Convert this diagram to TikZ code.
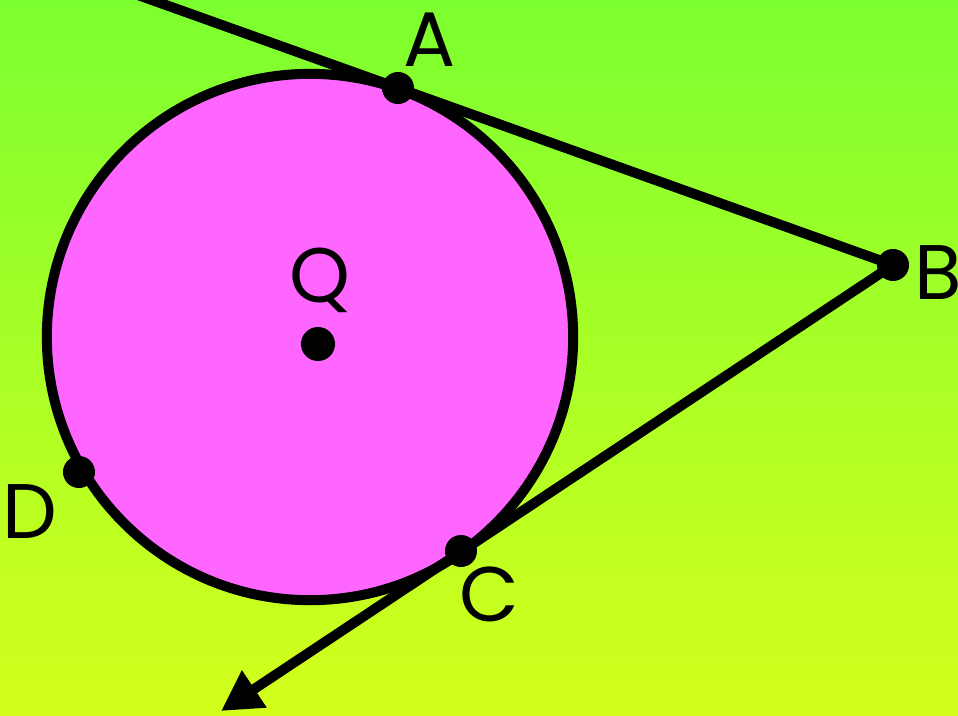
\documentclass[tikz,border=0pt]{standalone}
\usepackage{fontspec}
\setmainfont{Poppins}
\usetikzlibrary{arrows.meta,calc}
\definecolor{topg}{HTML}{7CFF30}
\definecolor{botg}{HTML}{D4FF1C}
\definecolor{magf}{HTML}{FF66FF}
\tikzset{
  pt/.style={circle,fill=black,inner sep=0pt,minimum size=0.32cm},
  lbl/.style={font=\fontsize{22}{24}\selectfont},
  thick line/.style={line width=0.1cm,black}
}
\begin{document}
\begin{tikzpicture}[x=0.01cm,y=-0.01cm]
\shade[top color=topg,bottom color=botg] (0,0) rectangle (958,715);
\useasboundingbox (0,0) rectangle (958,715);
\begin{scope}
\clip (0,0) rectangle (958,715);
\draw[thick line,fill=magf] (310,337) circle[radius=2.63cm];
\coordinate (cA) at (398,88);
\coordinate (cB) at (893,265);
\coordinate (cS) at ($(cA)!-0.56!(cB)$);
\coordinate (cT) at (221,711);
\draw[thick line] (cS) -- (cB);
\draw[thick line,-{Triangle[length=0.4cm,width=0.42cm]}] (cB) -- (cT);
\node[pt] (A) at (cA) {};
\node[pt] (B) at (cB) {};
\node[pt] (C) at (461,551) {};
\node[pt] (D) at (79,472) {};
\node[pt,minimum size=0.34cm] (Q) at (318,344) {};
\node[lbl] (la) at (430,40) {A};
\node[lbl] (lb) at (938,273) {B};
\node[lbl] (lq) at (320,280) {Q};
\node[lbl] (ld) at (30,512) {D};
\node[lbl] (lc) at (489,594) {C};
\end{scope}
\end{tikzpicture}
\end{document}
